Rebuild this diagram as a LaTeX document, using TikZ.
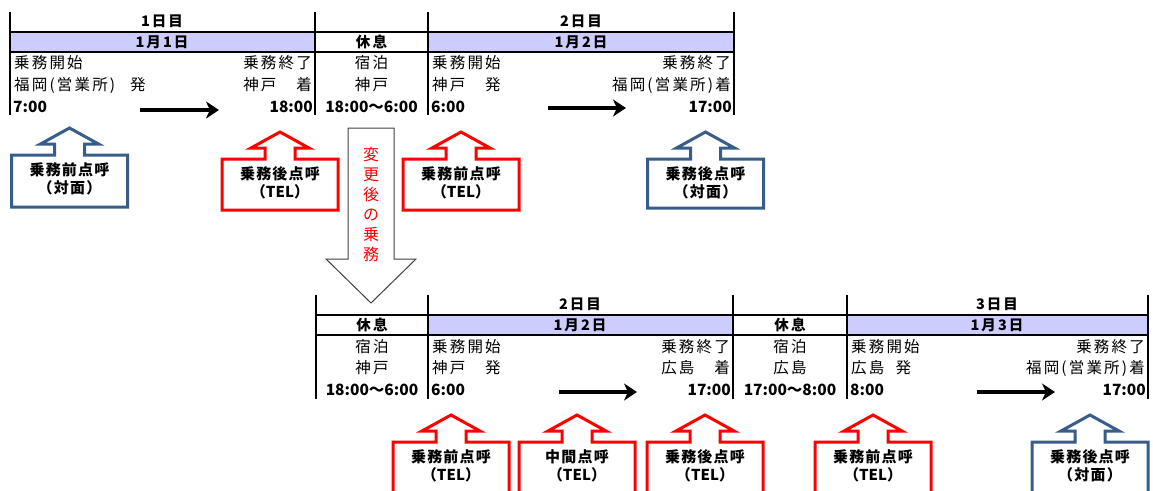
\documentclass[tikz,border=0pt]{standalone}
\usepackage{fontspec}
\setmainfont{Noto Sans CJK JP}
\newfontfamily\jp[LetterSpace=14]{Noto Sans CJK JP}
\newfontfamily\jpc[LetterSpace=8]{Noto Sans CJK JP}
\usetikzlibrary{arrows.meta}
\definecolor{band}{RGB}{204,204,255}
\definecolor{cblue}{RGB}{56,93,138}
\definecolor{cred}{RGB}{255,0,0}
\definecolor{agray}{RGB}{64,64,64}
\newcommand\tel{{\rmfamily\bfseries （TEL）}}
\tikzset{
  tline/.style={line width=2pt,black},
  txt/.style={inner sep=0pt,font=\jp\fontsize{15.5}{18}\selectfont},
  tim/.style={inner sep=0pt,font=\bfseries\fontsize{15.5}{17}\selectfont},
  hdr/.style={inner sep=0pt,font=\jp\bfseries\fontsize{14.5}{16}\selectfont},
  callline/.style={line width=3pt,line join=miter,fill=white},
  ctext/.style={inner sep=0pt,align=center,font=\jpc\bfseries\fontsize{15}{18}\selectfont},
  flow/.style={line width=3.5pt,-{Stealth[length=13pt,width=17pt,inset=4pt]}},
}
\newcommand\upcallout[6]{% name, cx, top, bottom, colour, text
  \draw[callline,draw=#5] (#2-58,#4) -- (#2-58,#3) -- (#2-15,#3) -- (#2-15,#3-11)
    -- (#2-29,#3-11) -- (#2,#3-27) -- (#2+29,#3-11) -- (#2+15,#3-11) -- (#2+15,#3)
    -- (#2+58,#3) -- (#2+58,#4) -- cycle;
  \node[ctext] (#1) at (#2,#3+24) {#6};
}
\begin{document}
\begin{tikzpicture}[x=1pt,y=-1pt]
\useasboundingbox (0,0) rectangle (1153,490);
\clip (0,0) rectangle (1153,490);

% ---------- top table ----------
\fill[band] (10,32) rectangle (315,52);
\fill[band] (428,32) rectangle (734,52);
\foreach \xx in {10,315,428,734} \draw[tline] (\xx,12) -- (\xx,115);
\draw[tline] (9,32) -- (735,32);
\draw[tline] (9,52) -- (735,52);

\node[hdr] (d1) at (162,21) {1日目};
\node[hdr] (d1d) at (162,42) {1月1日};
\node[hdr] (r1) at (371.5,42) {休息};
\node[hdr] (d2) at (581,21) {2日目};
\node[hdr] (d2d) at (581,42) {1月2日};

\node[txt,anchor=west] (a1) at (14,63) {乗務開始};
\node[txt,anchor=west] (a2) at (14,85) {福岡(営業所)\hspace{15pt}発};
\node[tim,anchor=west] (a3) at (13,107) {7:00};
\node[txt,anchor=east] (b1) at (312,63) {乗務終了};
\node[txt,anchor=east] (b2) at (312,85) {神戸　着};
\node[tim,anchor=east] (b3) at (313,107) {18:00};
\node[txt] (c1) at (371.5,63) {宿泊};
\node[txt] (c2) at (371.5,85) {神戸};
\node[tim] (c3) at (371.5,107) {18:00〜6:00};
\node[txt,anchor=west] (e1) at (432,63) {乗務開始};
\node[txt,anchor=west] (e2) at (432,85) {神戸　発};
\node[tim,anchor=west] (e3) at (431,107) {6:00};
\node[txt,anchor=east] (f1) at (731,63) {乗務終了};
\node[txt,anchor=east] (f2) at (731,85) {福岡(営業所)着};
\node[tim,anchor=east] (f3) at (732,107) {17:00};

\coordinate (t1s) at (140,110); \coordinate (t1e) at (219,110);
\coordinate (t2s) at (548,108); \coordinate (t2e) at (626,108);
\draw[flow] (t1s) -- (t1e);
\draw[flow] (t2s) -- (t2e);

% ---------- top callouts ----------
\upcallout{k1}{69.5}{155}{207}{cblue}{乗務前点呼\\（対面）}
\upcallout{k2}{280}{159}{210}{cred}{乗務後点呼\\\tel}
\upcallout{k3}{461}{159}{210}{cred}{乗務前点呼\\\tel}
\upcallout{k4}{705.5}{159}{208}{cblue}{乗務後点呼\\（対面）}

% ---------- big down arrow ----------
\draw[agray,line width=1pt,fill=white,line join=miter] (348,128) -- (394,128) -- (394,259) -- (416,259)
  -- (371,303) -- (326,259) -- (348,259) -- cycle;
\node[inner sep=0pt,align=center,text=cred,font=\fontsize{16}{20}\selectfont] (chg) at (371,204)
  {変\\更\\後\\の\\乗\\務};

% ---------- bottom table ----------
\fill[band] (428,315) rectangle (733,335);
\fill[band] (847,315) rectangle (1148,335);
\foreach \xx in {316,428,733,847,1148} \draw[tline] (\xx,295) -- (\xx,399);
\draw[tline] (315,315) -- (1149,315);
\draw[tline] (315,335) -- (1149,335);

\node[hdr] (r2) at (372,325) {休息};
\node[hdr] (d3) at (580,304) {2日目};
\node[hdr] (d3d) at (580,325) {1月2日};
\node[hdr] (r3) at (790,325) {休息};
\node[hdr] (d4) at (997,304) {3日目};
\node[hdr] (d4d) at (997,325) {1月3日};

\node[txt] (g1) at (372,347) {宿泊};
\node[txt] (g2) at (372,368) {神戸};
\node[tim] (g3) at (372,390) {18:00〜6:00};
\node[txt,anchor=west] (h1) at (432,347) {乗務開始};
\node[txt,anchor=west] (h2) at (432,368) {神戸　発};
\node[tim,anchor=west] (h3) at (431,390) {6:00};
\node[txt,anchor=east] (i1) at (730,347) {乗務終了};
\node[txt,anchor=east] (i2) at (730,368) {広島　着};
\node[tim,anchor=east] (i3) at (731,390) {17:00};
\node[txt] (j1) at (790,347) {宿泊};
\node[txt] (j2) at (790,368) {広島};
\node[tim] (j3) at (790,390) {17:00〜8:00};
\node[txt,anchor=west] (l1) at (851,347) {乗務開始};
\node[txt,anchor=west] (l2) at (851,368) {広島\ \ 発};
\node[tim,anchor=west] (l3) at (850,390) {8:00};
\node[txt,anchor=east] (m1) at (1145,347) {乗務終了};
\node[txt,anchor=east] (m2) at (1145,368) {福岡(営業所)着};
\node[tim,anchor=east] (m3) at (1146,390) {17:00};

\coordinate (t3s) at (559,392); \coordinate (t3e) at (637,392);
\coordinate (t4s) at (977,392); \coordinate (t4e) at (1055,392);
\draw[flow] (t3s) -- (t3e);
\draw[flow] (t4s) -- (t4e);

% ---------- bottom callouts ----------
\upcallout{n1}{451}{442}{496}{cred}{乗務前点呼\\\tel}
\upcallout{n2}{577}{442}{496}{cred}{中間点呼\\\tel}
\upcallout{n3}{705}{442}{496}{cred}{乗務後点呼\\\tel}
\upcallout{n4}{873}{442}{496}{cred}{乗務前点呼\\\tel}
\upcallout{n5}{1090}{442}{496}{cblue}{乗務後点呼\\（対面）}
\end{tikzpicture}
\end{document}
